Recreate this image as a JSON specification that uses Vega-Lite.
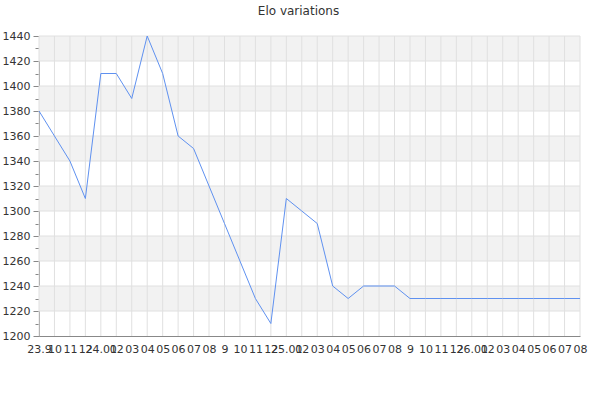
{
  "$schema": "https://vega.github.io/schema/vega-lite/v6.json",
  "autosize": "none",
  "padding": {"left": 39, "top": 36, "right": 20, "bottom": 64},
  "width": 541,
  "height": 300,
  "title": {
    "text": "Elo variations",
    "font": "DejaVu Sans",
    "fontSize": 12,
    "fontWeight": "normal",
    "color": "#333333",
    "offset": 12,
    "dx": -11
  },
  "datasets": {
    "elo": [
      {"month": "2023-09", "elo": 1380},
      {"month": "2023-10", "elo": 1360},
      {"month": "2023-11", "elo": 1340},
      {"month": "2023-12", "elo": 1310},
      {"month": "2024-01", "elo": 1410},
      {"month": "2024-02", "elo": 1410},
      {"month": "2024-03", "elo": 1390},
      {"month": "2024-04", "elo": 1440},
      {"month": "2024-05", "elo": 1410},
      {"month": "2024-06", "elo": 1360},
      {"month": "2024-07", "elo": 1350},
      {"month": "2024-08", "elo": 1320},
      {"month": "2024-09", "elo": 1290},
      {"month": "2024-10", "elo": 1260},
      {"month": "2024-11", "elo": 1230},
      {"month": "2024-12", "elo": 1210},
      {"month": "2025-01", "elo": 1310},
      {"month": "2025-02", "elo": 1300},
      {"month": "2025-03", "elo": 1290},
      {"month": "2025-04", "elo": 1240},
      {"month": "2025-05", "elo": 1230},
      {"month": "2025-06", "elo": 1240},
      {"month": "2025-07", "elo": 1240},
      {"month": "2025-08", "elo": 1240},
      {"month": "2025-09", "elo": 1230},
      {"month": "2025-10", "elo": 1230},
      {"month": "2025-11", "elo": 1230},
      {"month": "2025-12", "elo": 1230},
      {"month": "2026-01", "elo": 1230},
      {"month": "2026-02", "elo": 1230},
      {"month": "2026-03", "elo": 1230},
      {"month": "2026-04", "elo": 1230},
      {"month": "2026-05", "elo": 1230},
      {"month": "2026-06", "elo": 1230},
      {"month": "2026-07", "elo": 1230},
      {"month": "2026-08", "elo": 1230}
    ],
    "bands": [
      {"lo": 1220, "hi": 1240},
      {"lo": 1260, "hi": 1280},
      {"lo": 1300, "hi": 1320},
      {"lo": 1340, "hi": 1360},
      {"lo": 1380, "hi": 1400},
      {"lo": 1420, "hi": 1440}
    ]
  },
  "encoding": {
    "x": {
      "field": "month",
      "type": "ordinal",
      "sort": null,
      "title": null,
      "scale": {"type": "point", "padding": 0},
      "axis": {
        "grid": false,
        "ticks": false,
        "labelAngle": 0,
        "labelAlign": "center",
        "labelOverlap": false,
        "labelPadding": 7,
        "labelExpr": "datum.value == '2023-09' ? '23.9' : slice(datum.value, 5) == '01' ? slice(datum.value, 2, 4) + '.01' : slice(datum.value, 5) == '09' ? '9' : slice(datum.value, 5)"
      }
    },
    "y": {
      "type": "quantitative",
      "title": null,
      "scale": {"domain": [1200, 1440], "nice": false, "zero": false},
      "axis": {
        "grid": false,
        "format": "d",
        "labelOverlap": false,
        "values": [1200, 1210, 1220, 1230, 1240, 1250, 1260, 1270, 1280, 1290, 1300, 1310, 1320, 1330, 1340, 1350, 1360, 1370, 1380, 1390, 1400, 1410, 1420, 1430, 1440],
        "labelExpr": "datum.value % 20 == 0 ? datum.label : ''",
        "tickSize": {"condition": {"test": "datum.value % 20 == 0", "value": 6}, "value": 4},
        "labelPadding": 3
      }
    }
  },
  "layer": [
    {
      "data": {"name": "bands"},
      "mark": {"type": "rect", "fill": "#f2f2f2"},
      "encoding": {
        "x": null,
        "y": {"field": "lo"},
        "y2": {"field": "hi"}
      }
    },
    {
      "data": {"name": "bands"},
      "mark": {"type": "rule", "color": "#e0e0e0", "strokeWidth": 1},
      "encoding": {"x": null, "y": {"field": "lo"}}
    },
    {
      "data": {"name": "bands"},
      "mark": {"type": "rule", "color": "#e0e0e0", "strokeWidth": 1},
      "encoding": {"x": null, "y": {"field": "hi"}}
    },
    {
      "data": {"name": "elo"},
      "mark": {"type": "rule", "color": "#e0e0e0", "strokeWidth": 1},
      "encoding": {"y": null}
    },
    {
      "data": {"name": "elo"},
      "mark": {"type": "line", "color": "#5f91f0", "strokeWidth": 1},
      "encoding": {"y": {"field": "elo"}}
    }
  ],
  "config": {
    "view": {"stroke": null},
    "axis": {
      "domainColor": "#888888",
      "tickColor": "#888888",
      "labelFont": "DejaVu Sans",
      "labelFontSize": 11,
      "labelColor": "#333333"
    }
  }
}
